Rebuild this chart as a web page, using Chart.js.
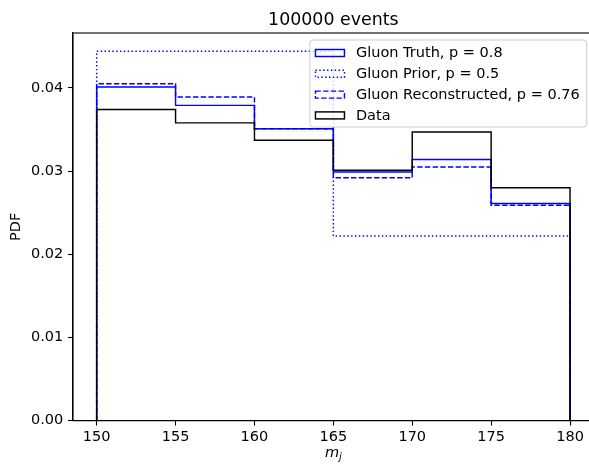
<!DOCTYPE html>
<html>
<head>
<meta charset="utf-8">
<script src="https://cdn.jsdelivr.net/npm/chart.js@4.4.0/dist/chart.umd.min.js"></script>
<style>
  html, body { margin: 0; padding: 0; background: #fff; overflow: hidden; }
  canvas { display: block; }
</style>
</head>
<body>
<canvas id="histChart" width="600" height="464"></canvas>
<script>
// --- histogram data (normalised, bin width 5) ---
const binEdges = [150, 155, 160, 165, 170, 175, 180];
const gluonTruth = [0.0401, 0.0379, 0.0351, 0.0299, 0.0314, 0.0261];
const gluonPrior = [0.0444, 0.0444, 0.0444, 0.0222, 0.0222, 0.0222];
const gluonReco  = [0.0405, 0.0389, 0.0351, 0.0292, 0.0305, 0.0259];
const dataHist   = [0.0374, 0.0358, 0.0337, 0.0301, 0.0347, 0.0280];

const seriesLabels = [
    "Gluon Truth, p = 0.8",
    "Gluon Prior, p = 0.5",
    "Gluon Reconstructed, p = 0.76",
    "Data"
];
const xTicks = [150, 155, 160, 165, 170, 175, 180];
const yTicks = [0.00, 0.01, 0.02, 0.03, 0.04];

const FONT = "'DejaVu Sans', sans-serif";
const FS = 14.5;
const LW = 1.45;

// outline of a step histogram: up from zero, across every bin, back to zero
function stepPoints(values) {
    const pts = [{ x: binEdges[0], y: 0 }];
    values.forEach((v, i) => {
        pts.push({ x: binEdges[i], y: v });
        pts.push({ x: binEdges[i + 1], y: v });
    });
    pts.push({ x: binEdges[binEdges.length - 1], y: 0 });
    return pts;
}

function histDataset(label, values, color, dash, order) {
    return {
        label: label,
        data: stepPoints(values),
        borderColor: color,
        backgroundColor: 'transparent',
        borderWidth: LW,
        borderDash: dash,
        borderCapStyle: 'butt',
        pointRadius: 0,
        fill: false,
        tension: 0,
        order: order
    };
}

// axes frame, title, axis labels and the in-plot legend
const decorations = {
    id: 'decorations',
    afterDatasetsDraw(chart) {
        const { ctx, chartArea: a } = chart;
        ctx.save();

        // full spine box
        ctx.strokeStyle = '#000';
        ctx.lineWidth = 1.1;
        ctx.setLineDash([]);
        ctx.strokeRect(a.left, a.top, a.right - a.left, a.bottom - a.top);

        // legend
        ctx.font = `${FS}px ${FONT}`;
        const textW = Math.max(...seriesLabels.map(t => ctx.measureText(t).width));
        const pad = 5.5, handleW = 29, handleH = 7, gap = 11.5, rowH = 20.8;
        const right = a.right - 7, top = a.top + 7;
        const left = right - (pad + handleW + gap + textW + pad + 1.5);
        const bottom = top + 87;

        ctx.beginPath();
        ctx.roundRect(left, top, right - left, bottom - top, 3);
        ctx.fillStyle = 'rgba(255,255,255,0.8)';
        ctx.fill();
        ctx.strokeStyle = '#cccccc';
        ctx.lineWidth = 1;
        ctx.stroke();

        ctx.textBaseline = 'middle';
        ctx.textAlign = 'left';
        chart.data.datasets.forEach((ds, i) => {
            const cy = top + 13 + i * rowH;
            ctx.strokeStyle = ds.borderColor;
            ctx.lineWidth = LW;
            ctx.setLineDash(ds.borderDash || []);
            ctx.strokeRect(left + pad, cy - handleH / 2, handleW, handleH);
            ctx.setLineDash([]);
            ctx.fillStyle = '#000';
            ctx.fillText(seriesLabels[i], left + pad + handleW + gap, cy + 0.5);
        });

        // title
        const cx = (a.left + a.right) / 2;
        ctx.fillStyle = '#000';
        ctx.textAlign = 'center';
        ctx.textBaseline = 'alphabetic';
        ctx.font = `17.4px ${FONT}`;
        ctx.fillText('100000 events', cx, a.top - 8.3);

        // x label: italic m with subscript j
        ctx.font = `italic ${FS}px ${FONT}`;
        const mW = ctx.measureText('m').width;
        ctx.font = `italic 10px ${FONT}`;
        const jW = ctx.measureText('j').width;
        const x0 = cx - (mW + jW) / 2;
        ctx.textAlign = 'left';
        ctx.font = `italic ${FS}px ${FONT}`;
        ctx.fillText('m', x0, 457);
        ctx.font = `italic 10px ${FONT}`;
        ctx.fillText('j', x0 + mW, 459.5);

        // y label
        ctx.translate(16.5, (a.top + a.bottom) / 2);
        ctx.rotate(-Math.PI / 2);
        ctx.textAlign = 'center';
        ctx.textBaseline = 'middle';
        ctx.font = `${FS}px ${FONT}`;
        ctx.fillText('PDF', 0, 0);

        ctx.restore();
    }
};

const tickFont = { family: FONT, size: FS };

new Chart(document.getElementById('histChart'), {
    type: 'line',
    data: {
        datasets: [
            histDataset(seriesLabels[0], gluonTruth, '#0000ff', [], 4),
            histDataset(seriesLabels[1], gluonPrior, '#0000ff', [1.45, 2.4], 3),
            histDataset(seriesLabels[2], gluonReco, '#0000ff', [5.4, 2.3], 2),
            histDataset(seriesLabels[3], dataHist, '#000000', [], 1)
        ]
    },
    options: {
        responsive: false,
        devicePixelRatio: 1,
        animation: false,
        layout: { padding: { left: 0, top: 33, right: 6.3, bottom: 0 } },
        plugins: {
            legend: { display: false },
            tooltip: { enabled: false },
            title: { display: false }
        },
        scales: {
            x: {
                type: 'linear',
                min: 148.5,
                max: 181.5,
                afterBuildTicks: s => { s.ticks = xTicks.map(v => ({ value: v })); },
                afterFit: s => { s.height = 43.3; },
                grid: { drawOnChartArea: false, tickLength: 4.9, tickWidth: 1.1, tickColor: '#000' },
                border: { display: true, color: '#000', width: 1.1 },
                ticks: {
                    color: '#000', font: tickFont, padding: 2.5,
                    autoSkip: false, maxRotation: 0,
                    callback: v => String(v)
                }
            },
            y: {
                type: 'linear',
                min: 0,
                max: 0.0466,
                afterBuildTicks: s => { s.ticks = yTicks.map(v => ({ value: v })); },
                afterFit: s => { s.width = 73; },
                grid: { drawOnChartArea: false, tickLength: 4.9, tickWidth: 1.1, tickColor: '#000' },
                border: { display: true, color: '#000', width: 1.1 },
                ticks: {
                    color: '#000', font: tickFont, padding: 4.9,
                    callback: v => v.toFixed(2)
                }
            }
        }
    },
    plugins: [decorations]
});
</script>
</body>
</html>
